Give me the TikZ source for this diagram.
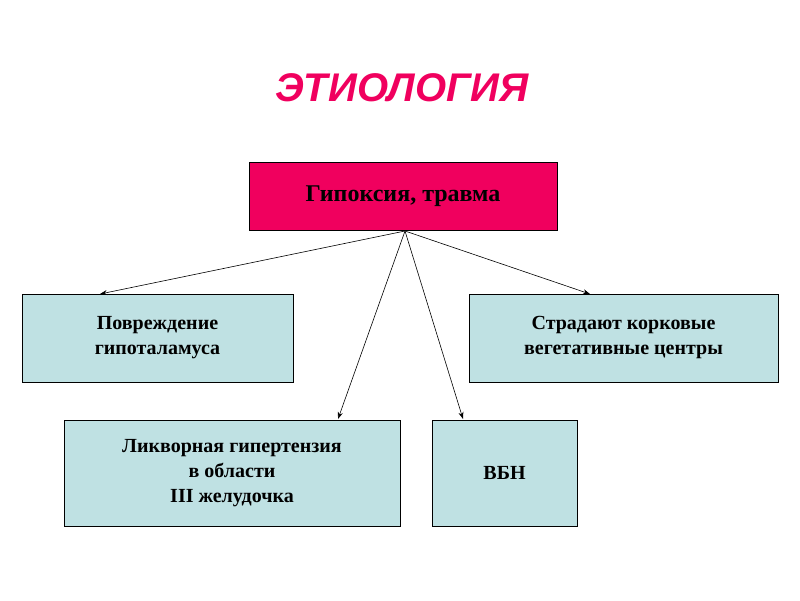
\documentclass[tikz,border=0pt]{standalone}
\usepackage{fontspec}
\setmainfont{Liberation Serif}
\newfontfamily\titlefont{Liberation Sans}
\usetikzlibrary{arrows.meta}
\definecolor{crim}{HTML}{F0005E}
\definecolor{lblue}{HTML}{BFE1E3}
\definecolor{titlecol}{HTML}{F0005E}
\begin{document}
\begin{tikzpicture}[x=1pt,y=-1pt,
  box/.style={draw=black,line width=0.8pt,fill=lblue,align=center,font=\fontsize{20}{25}\selectfont\bfseries,inner sep=0pt},
  conn/.style={-{Stealth[length=7pt,width=5pt]},line width=0.6pt}]
\useasboundingbox (0,0) rectangle (800,600);
\node[font=\titlefont\fontsize{40}{44}\selectfont\bfseries\itshape,text=titlecol] (t) at (402,88) {ЭТИОЛОГИЯ};
\node[box,fill=crim,minimum width=308pt,minimum height=68pt,font=\fontsize{24}{28}\selectfont\bfseries] (top) at (403,196) {Гипоксия, травма};
\node[box,minimum width=271pt,minimum height=88pt] (b1) at (157.5,338) {Повреждение\\гипоталамуса};
\node[box,minimum width=309pt,minimum height=88pt] (b2) at (623.5,338) {Страдают корковые\\вегетативные центры};
\node[box,minimum width=336pt,minimum height=106pt] (b3) at (232,473) {Ликворная гипертензия\\в области\\III желудочка};
\node[box,minimum width=145pt,minimum height=106pt] (b4) at (504.5,473) {ВБН};
\coordinate (s) at (405,231);
\coordinate (e1) at (100,294);
\coordinate (e2) at (590,294);
\coordinate (e3) at (338,419);
\coordinate (e4) at (463,419);
\draw[conn] (s) -- (e1);
\draw[conn] (s) -- (e2);
\draw[conn] (s) -- (e3);
\draw[conn] (s) -- (e4);
\end{tikzpicture}
\end{document}
